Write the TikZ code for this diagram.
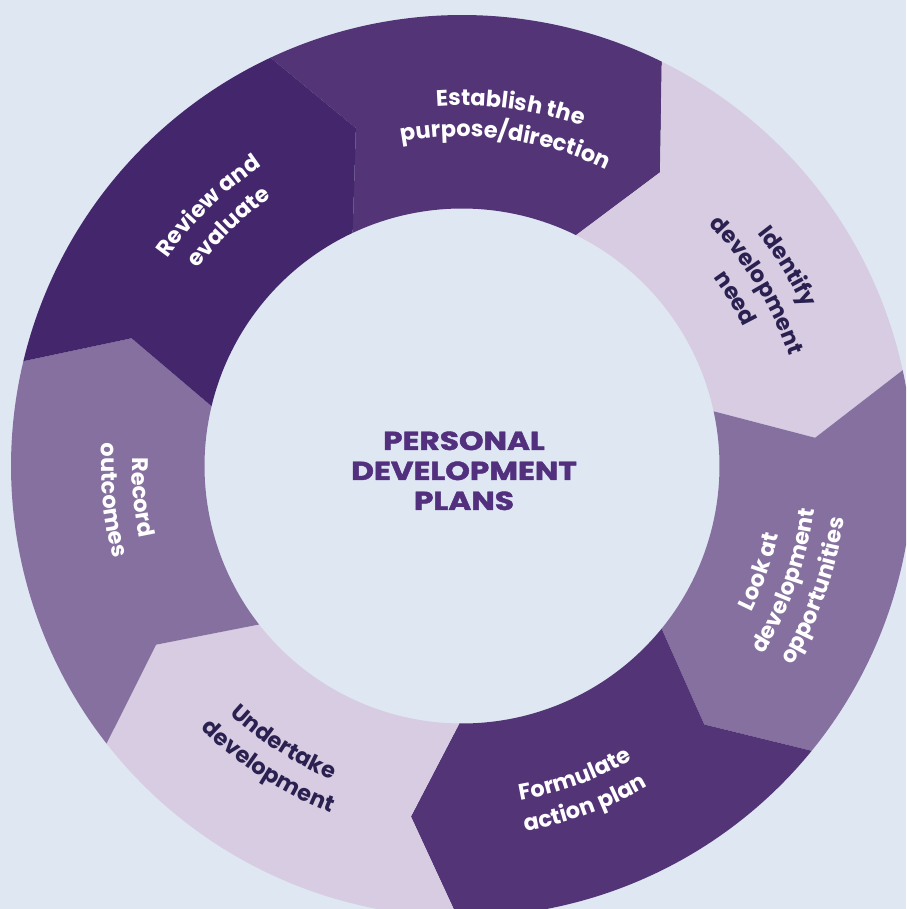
\documentclass[tikz,border=0pt]{standalone}
\usepackage{graphicx}
\usepackage{fontspec}
\setmainfont{Poppins}
\newfontfamily\titlefont{Poppins}[BoldFeatures={FakeBold=1.6}]
\usetikzlibrary{decorations.text}

\definecolor{bgblue}{HTML}{DFE7F3}
\definecolor{plumdark}{HTML}{43266C}
\definecolor{plum}{HTML}{533476}
\definecolor{mauve}{HTML}{8670A0}
\definecolor{lilac}{HTML}{D7CCE2}
\definecolor{inkdark}{HTML}{2A2150}
\definecolor{titleplum}{HTML}{52307E}

% ring geometry (1 unit = 1pt, origin at the ring centre)
\newcommand\Rout{451}
\newcommand\Rin{257.5}
\newcommand\Rmid{354.25}
\newcommand\tipshift{7.7}

% one line of a label bent along the ring
% #1 centre angle, #2 baseline radius, #3 format, #4 text
\newcommand\cwline[4]{%
  \pgfmathsetmacro\la{#1+45}\pgfmathsetmacro\lb{#1-45}%
  \path[decorate,decoration={text along path,text align=center,text={|#3|#4}}]
    (\la:#2) arc[start angle=\la,end angle=\lb,radius=#2];}
\newcommand\ccwline[4]{%
  \pgfmathsetmacro\la{#1-45}\pgfmathsetmacro\lb{#1+45}%
  \path[decorate,decoration={text along path,text align=center,text={|#3|#4}}]
    (\la:#2) arc[start angle=\la,end angle=\lb,radius=#2];}

\newcommand\lightlbl{\fontsize{22.5}{27}\selectfont\bfseries\color{white}}
\newcommand\darklbl{\fontsize{22.5}{27}\selectfont\bfseries\color{inkdark}}
\newcommand\widetitle[1]{\scalebox{1.2}[1]{#1}}

\begin{document}
\begin{tikzpicture}[x=1pt,y=1pt,
  titletext/.style={text=titleplum,font=\titlefont\fontsize{26}{30}\selectfont\bfseries,inner sep=0pt,anchor=base}]
\useasboundingbox (-462,-443) rectangle (444,466);
\clip (-462,-443) rectangle (444,466);
\fill[bgblue] (-462,-443) rectangle (444,466);

% seven arrow-shaped segments, each pointing clockwise into the next
\foreach \a/\col in {115.13/plum, 63.7/lilac, 12.27/mauve, -39.16/plum,
                     -90.59/lilac, -142.01/mauve, 166.56/plumdark}{
  \pgfmathsetmacro\b{\a-51.4286}
  \pgfmathsetmacro\bt{\b-\tipshift}
  \pgfmathsetmacro\at{\a-\tipshift}
  \fill[fill=\col] (\a:\Rout) arc[start angle=\a,end angle=\b,radius=\Rout]
     -- (\bt:\Rmid) -- (\b:\Rin)
     arc[start angle=\b,end angle=\a,radius=\Rin]
     -- (\at:\Rmid) -- cycle;
}

% segment labels
\cwline{82.3}{360.5}{\lightlbl}{Establish the}
\cwline{82.3}{329.5}{\lightlbl}{purpose/direction}

\cwline{31.5}{376}{\darklbl}{Identify}
\cwline{31.5}{345}{\darklbl}{development}
\cwline{31.5}{314}{\darklbl}{need}

\ccwline{-19.5}{324}{\lightlbl}{Look at}
\ccwline{-19.5}{355}{\lightlbl}{development}
\ccwline{-19.5}{386}{\lightlbl}{opportunities}

\ccwline{-70}{339.5}{\lightlbl}{Formulate}
\ccwline{-70}{370.5}{\lightlbl}{action plan}

\ccwline{-122.8}{339.5}{\darklbl}{Undertake}
\ccwline{-122.8}{370.5}{\darklbl}{development}

\ccwline{-174.4}{330}{\lightlbl}{Record}
\ccwline{-174.4}{361}{\lightlbl}{outcomes}

\cwline{134.3}{360.5}{\lightlbl}{Review and}
\cwline{134.3}{329.5}{\lightlbl}{evaluate}

% centre title
\node[titletext] (title1) at (2,16) {\widetitle{PERSONAL}};
\node[titletext] (title2) at (2,-14) {\widetitle{DEVELOPMENT}};
\node[titletext] (title3) at (2,-44) {\widetitle{PLANS}};
\end{tikzpicture}
\end{document}
